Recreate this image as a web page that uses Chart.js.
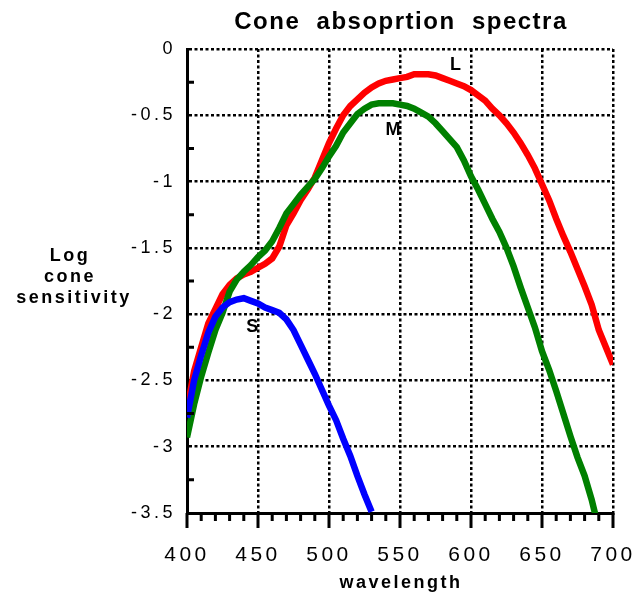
<!DOCTYPE html>
<html lang="en">
<head>
  <meta charset="UTF-8"/>
  <title>Cone absoprtion spectra</title>
  <script src="https://cdn.jsdelivr.net/npm/chart.js"></script>
  <style>
    html, body { margin: 0; padding: 0; background: #fff; }
    #wrap { width: 636px; height: 595px; position: relative; }
  </style>
</head>
<body>
  <div id="wrap"><canvas id="chart"></canvas></div>

  <script>
    // wavelength in nm, every 5 nm
    const wavelengths = [];
    for (let w = 400; w <= 700; w += 5) wavelengths.push(w);

    // log sensitivity
    const coneL = [-2.72, -2.43, -2.25, -2.07, -1.96, -1.85, -1.78, -1.73, -1.70, -1.68, -1.65,
                   -1.62, -1.58, -1.49, -1.33, -1.24, -1.14, -1.06, -0.97, -0.84, -0.71,
                   -0.60, -0.50, -0.43, -0.38, -0.33, -0.29, -0.26, -0.24, -0.23, -0.22,
                   -0.21, -0.19, -0.19, -0.19, -0.20, -0.22, -0.24, -0.26, -0.28, -0.31,
                   -0.35, -0.39, -0.45, -0.50, -0.56, -0.63, -0.71, -0.80, -0.90, -1.02,
                   -1.14, -1.28, -1.41, -1.53, -1.66, -1.79, -1.93, -2.12, -2.25, -2.38];
    const coneM = [-2.93, -2.68, -2.47, -2.29, -2.12, -1.99, -1.83, -1.74, -1.68, -1.63, -1.57,
                   -1.52, -1.45, -1.35, -1.24, -1.17, -1.10, -1.04, -0.98, -0.90, -0.81,
                   -0.73, -0.63, -0.56, -0.49, -0.45, -0.42, -0.41, -0.41, -0.41, -0.42,
                   -0.43, -0.45, -0.48, -0.51, -0.56, -0.62, -0.68, -0.74, -0.84, -0.96,
                   -1.06, -1.17, -1.28, -1.38, -1.50, -1.64, -1.80, -1.95, -2.10, -2.28,
                   -2.42, -2.58, -2.75, -2.92, -3.08, -3.22, -3.40, -3.62, null, null];
    const coneS = [-2.78, -2.50, -2.31, -2.14, -2.02, -1.95, -1.91, -1.89, -1.88, -1.90, -1.92,
                   -1.95, -1.97, -1.99, -2.04, -2.12, -2.23, -2.34, -2.45, -2.57, -2.69,
                   -2.80, -2.94, -3.07, -3.22, -3.36, -3.49, null, null, null, null,
                   null, null, null, null, null, null, null, null, null, null,
                   null, null, null, null, null, null, null, null, null, null,
                   null, null, null, null, null, null, null, null, null, null];

    const xTicks = [400, 450, 500, 550, 600, 650, 700];
    const yTicks = [0, -0.5, -1, -1.5, -2, -2.5, -3, -3.5];

    const FONT = "'Liberation Sans', Arial, Helvetica, sans-serif";
    Chart.defaults.font.family = FONT;
    Chart.defaults.color = '#000';

    const toPoints = vals => wavelengths.map((w, i) => ({ x: w, y: vals[i] }));

    // curve names, placed in data units
    const curveNames = [
      { text: 'L', x: 589, y: -0.12 },
      { text: 'M', x: 545, y: -0.61 },
      { text: 'S', x: 446, y: -2.10 }
    ];

    const noPad = s => { s.paddingLeft = s.paddingRight = s.paddingTop = s.paddingBottom = 0; };

    const decor = {
      id: 'decor',
      beforeDraw(chart) {
        chart.ctx.letterSpacing = '3.5px';
      },
      afterDraw(chart) {
        const { ctx, chartArea: a } = chart;
        const x = chart.scales.x, y = chart.scales.y;
        ctx.save();
        ctx.letterSpacing = '0px';
        ctx.strokeStyle = '#000';
        ctx.lineWidth = 3;
        ctx.beginPath();
        // ticks under the x axis, longer every 50 nm
        for (let w = 400; w <= 700; w += 10) {
          const px = x.getPixelForValue(w);
          const len = w % 50 === 0 ? 15 : 8;
          ctx.moveTo(px, a.bottom);
          ctx.lineTo(px, a.bottom + len);
        }
        // small ticks inside the y axis between grid lines
        for (let v = -3.25; v < 0; v += 0.5) {
          const py = y.getPixelForValue(v);
          ctx.moveTo(a.left, py);
          ctx.lineTo(a.left + 7, py);
        }
        ctx.stroke();

        ctx.fillStyle = '#000';
        ctx.textAlign = 'center';
        ctx.textBaseline = 'middle';
        ctx.font = 'bold 18px ' + FONT;
        curveNames.forEach(n => {
          ctx.fillText(n.text, x.getPixelForValue(n.x), y.getPixelForValue(n.y));
        });

        const cx = (a.left + a.right) / 2;
        ctx.textBaseline = 'alphabetic';
        ctx.letterSpacing = '1.5px';
        ctx.font = 'bold 24px ' + FONT;
        ctx.fillText('Cone  absoprtion  spectra', cx + 1, 29);

        ctx.letterSpacing = '2.5px';
        ctx.font = 'bold 18px ' + FONT;
        ctx.fillText('wavelength', cx + 1, 588);
        ctx.fillText('Log', 70, 261);
        ctx.fillText('cone', 70, 282);
        ctx.fillText('sensitivity', 74, 303);
        ctx.restore();
      }
    };

    new Chart(document.getElementById('chart'), {
      type: 'line',
      data: {
        datasets: [
          { label: 'S', data: toPoints(coneS), borderColor: '#0000ff' },
          { label: 'M', data: toPoints(coneM), borderColor: '#008000' },
          { label: 'L', data: toPoints(coneL), borderColor: '#ff0000' }
        ]
      },
      options: {
        responsive: true,
        maintainAspectRatio: false,
        animation: false,
        layout: { padding: { top: 49, right: 23, left: 0, bottom: 0 } },
        datasets: {
          line: { borderWidth: 6.5, pointRadius: 0, tension: 0, fill: false }
        },
        plugins: {
          legend: { display: false },
          tooltip: { enabled: false }
        },
        scales: {
          x: {
            type: 'linear',
            min: 400,
            max: 700,
            afterFit: s => { s.height = 82; noPad(s); },
            afterBuildTicks: s => { s.ticks = xTicks.map(v => ({ value: v })); },
            grid: { color: '#000', lineWidth: 2.5, drawTicks: false },
            border: { color: '#000', width: 3, dash: [3, 2.5] },
            ticks: { font: { size: 21 }, padding: 30, maxRotation: 0 }
          },
          y: {
            type: 'linear',
            min: -3.5,
            max: 0,
            afterFit: s => { s.width = 187; noPad(s); },
            afterBuildTicks: s => { s.ticks = yTicks.map(v => ({ value: v })); },
            grid: { color: '#000', lineWidth: 2.5, drawTicks: false },
            border: { color: '#000', width: 3, dash: [3, 2.5] },
            ticks: { font: { size: 18 }, padding: 11, callback: v => String(v) }
          }
        }
      },
      plugins: [decor]
    });
  </script>
</body>
</html>
